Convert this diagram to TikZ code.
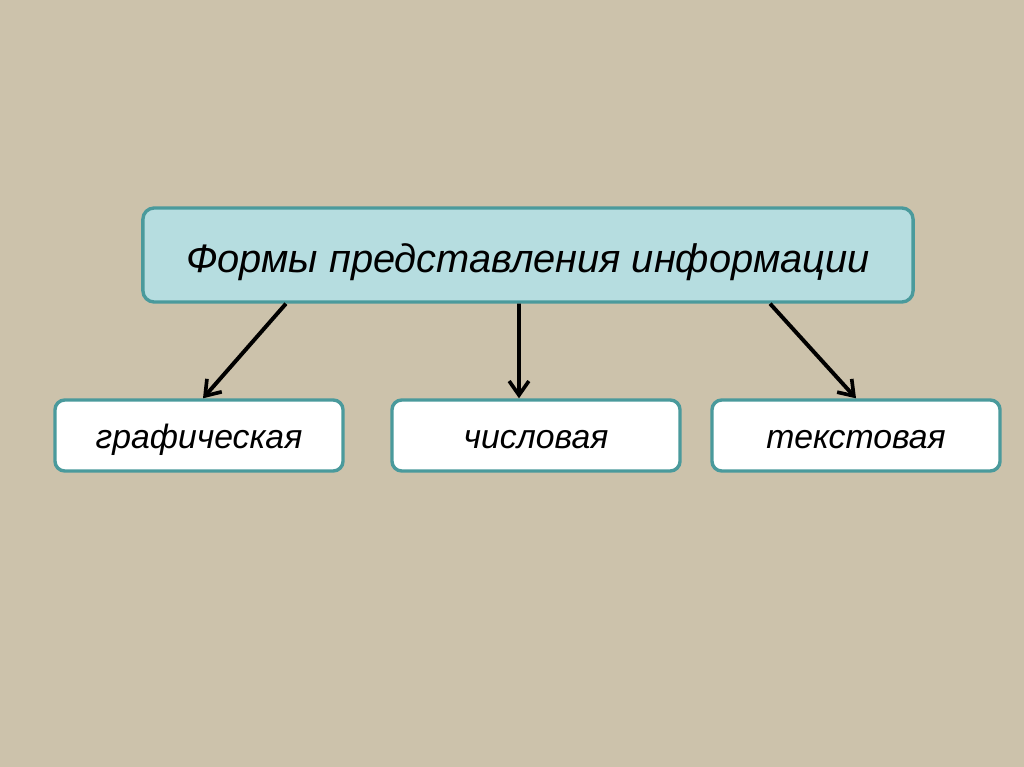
\documentclass[tikz,border=0pt]{standalone}
\usepackage{fontspec}
\setmainfont{Liberation Sans}
\usetikzlibrary{arrows.meta,positioning,calc}
\definecolor{paper}{HTML}{CCC2AB}
\definecolor{tealline}{HTML}{4A9A9C}
\definecolor{tealfill}{HTML}{B6DDE0}

\begin{document}
\begin{tikzpicture}[
    x=0.025cm, y=-0.025cm,
    mainbox/.style={rectangle, draw=tealline, line width=2.4pt, rounded corners=8pt, fill=tealfill, minimum width=19.25cm, minimum height=2.35cm, text height=25pt, text depth=0pt, font=\fontsize{28.3}{33}\selectfont\itshape},
    formbox/.style={rectangle, draw=tealline, line width=2.4pt, rounded corners=7pt, fill=white, minimum width=7.2cm, minimum height=1.775cm, text height=19pt, text depth=0pt, font=\fontsize{24}{28}\selectfont\itshape},
    arrow/.style={-{Straight Barb[length=10pt, width=14pt, line width=2.6pt]}, line width=2.8pt, black}
]
    % background
    \fill[paper] (0,0) rectangle (1024,767);
    \useasboundingbox (0,0) rectangle (1024,767);

    % top box
    \node[mainbox] (forms) at (528,255) {Формы представления информации};

    % three kinds
    \node[formbox] (graph) at (199,435.5) {графическая};
    \node[formbox] (numeric) at (536,435.5) {числовая};
    \node[formbox] (text) at (856,435.5) {текстовая};

    % arrows
    \draw[arrow] ([xshift=-6.05cm]forms.south) -- ([xshift=0.1cm]graph.north);
    \draw[arrow] ([xshift=-0.225cm]forms.south) -- ([xshift=-0.425cm]numeric.north);
    \draw[arrow] ([xshift=6.05cm]forms.south) -- (text.north);
\end{tikzpicture}
\end{document}
